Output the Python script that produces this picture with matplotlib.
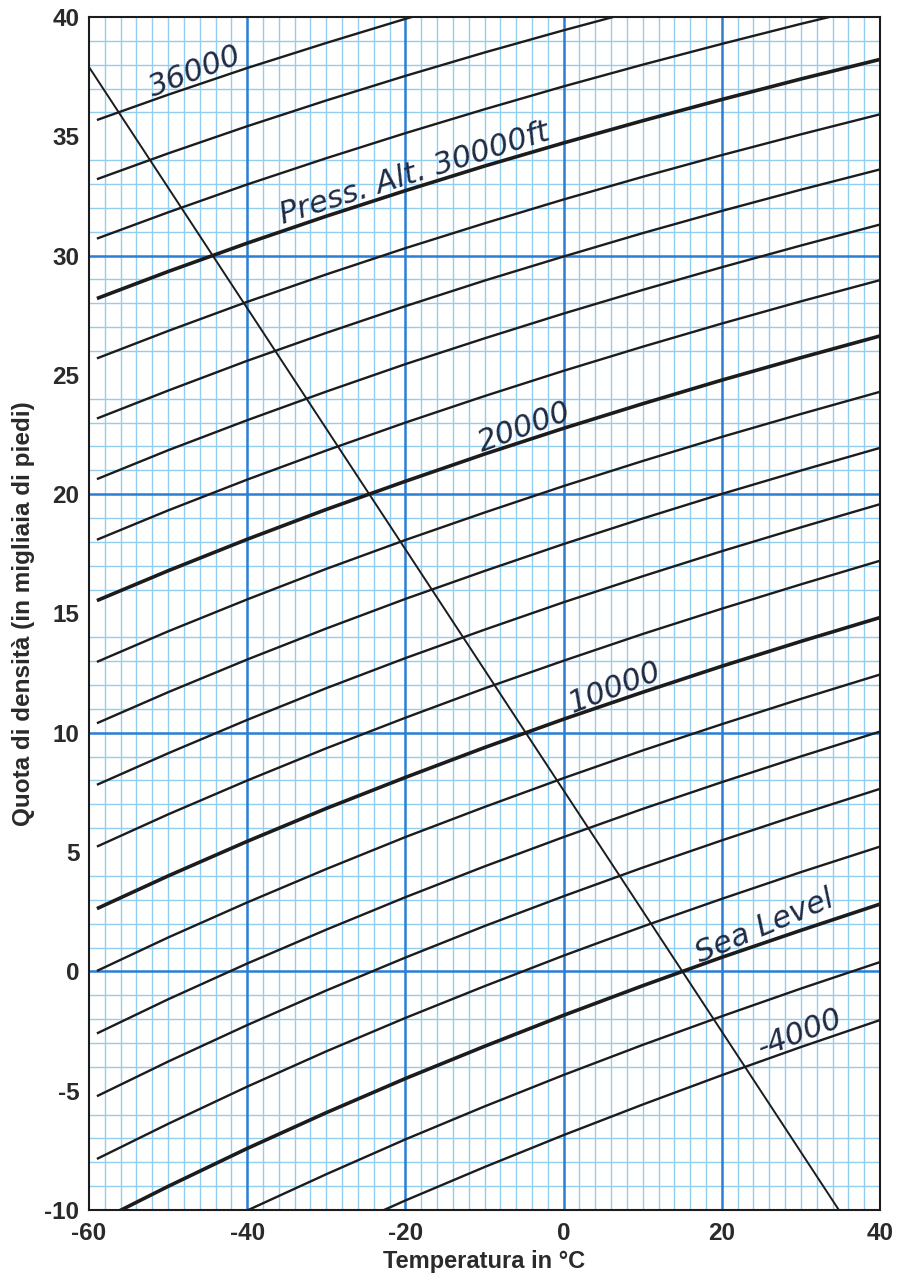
import matplotlib
matplotlib.use("Agg")
import matplotlib.pyplot as plt
from matplotlib.ticker import MultipleLocator

# temperatures (deg C) where the curves were read
temp = [-59, -50, -40, -30, -20, -10, 0, 10, 20, 30, 40]

# density altitude (thousand ft)
da_m4000 = [-15.82, -14.27, -12.63, -11.08, -9.60, -8.20, -6.86, -5.58, -4.35, -3.17, -2.04]
da_m2000 = [-13.16, -11.63, -10.02, -8.50, -7.04, -5.66, -4.34, -3.08, -1.88, -0.72, 0.39]
da_0 = [-10.51, -9.01, -7.42, -5.92, -4.49, -3.14, -1.84, -0.60, 0.59, 1.72, 2.82]
da_2000 = [-7.86, -6.39, -4.83, -3.35, -1.95, -0.62, 0.66, 1.88, 3.04, 4.16, 5.23]
da_4000 = [-5.23, -3.78, -2.25, -0.80, 0.58, 1.90, 3.15, 4.35, 5.49, 6.59, 7.65]
da_6000 = [-2.60, -1.17, 0.33, 1.75, 3.11, 4.40, 5.63, 6.81, 7.93, 9.01, 10.05]
da_8000 = [0.02, 1.42, 2.89, 4.29, 5.63, 6.89, 8.10, 9.26, 10.36, 11.42, 12.44]
da_10000 = [2.63, 4.00, 5.45, 6.83, 8.13, 9.38, 10.57, 11.70, 12.79, 13.83, 14.83]
da_12000 = [5.23, 6.58, 8.00, 9.35, 10.63, 11.86, 13.02, 14.14, 15.20, 16.22, 17.21]
da_14000 = [7.82, 9.14, 10.54, 11.87, 13.13, 14.32, 15.47, 16.56, 17.61, 18.61, 19.58]
da_16000 = [10.40, 11.70, 13.07, 14.37, 15.61, 16.78, 17.91, 18.98, 20.01, 20.99, 21.94]
da_18000 = [12.97, 14.25, 15.59, 16.87, 18.08, 19.23, 20.34, 21.39, 22.40, 23.36, 24.29]
da_20000 = [15.54, 16.79, 18.11, 19.36, 20.54, 21.68, 22.76, 23.79, 24.78, 25.72, 26.63]
da_22000 = [18.09, 19.32, 20.61, 21.83, 23.00, 24.11, 25.17, 26.18, 27.15, 28.08, 28.97]
da_24000 = [20.63, 21.84, 23.10, 24.30, 25.45, 26.53, 27.57, 28.56, 29.51, 30.42, 31.30]
da_26000 = [23.17, 24.34, 25.59, 26.76, 27.88, 28.95, 29.96, 30.94, 31.87, 32.76, 33.61]
da_28000 = [25.69, 26.84, 28.06, 29.21, 30.31, 31.35, 32.35, 33.30, 34.21, 35.08, 35.92]
da_30000 = [28.20, 29.33, 30.52, 31.65, 32.72, 33.75, 34.72, 35.65, 36.54, 37.40, 38.22]
da_32000 = [30.71, 31.81, 32.98, 34.08, 35.13, 36.13, 37.09, 38.00, 38.87, 39.71, 40.51]
da_34000 = [33.20, 34.28, 35.42, 36.50, 37.53, 38.51, 39.44, 40.33, 41.19, 42.00, 42.79]
da_36000 = [35.68, 36.74, 37.86, 38.91, 39.92, 40.87, 41.78, 42.66, 43.49, 44.29, 45.06]

pressure_alt = [-4000, -2000, 0, 2000, 4000, 6000, 8000, 10000, 12000, 14000,
                16000, 18000, 20000, 22000, 24000, 26000, 28000, 30000, 32000,
                34000, 36000]
curves = [da_m4000, da_m2000, da_0, da_2000, da_4000, da_6000, da_8000,
          da_10000, da_12000, da_14000, da_16000, da_18000, da_20000,
          da_22000, da_24000, da_26000, da_28000, da_30000, da_32000,
          da_34000, da_36000]
bold_alt = [0, 10000, 20000, 30000]

# standard atmosphere line
isa_temp = [-60, 34.8]
isa_alt = [37.9, -10.0]

# hand written labels: text, x, y, rotation
labels = [("36000", -46.6, 37.7, 21),
          ("Press. Alt. 30000ft", -18.8, 33.45, 17.5),
          ("20000", -5.0, 22.8, 20),
          ("10000", 6.4, 11.9, 21),
          ("Sea Level", 25.4, 1.9, 23),
          ("-4000", 29.9, -2.6, 21)]

plt.rcParams['font.family'] = ['Liberation Sans', 'DejaVu Sans']
plt.rcParams['axes.unicode_minus'] = False

fig = plt.figure(figsize=(9, 12.83), dpi=100)
ax = fig.add_axes([0.0989, 0.0569, 0.8789, 0.9299])

ax.set_xlim(-60, 40)
ax.set_ylim(-10, 40)
ax.xaxis.set_major_locator(MultipleLocator(20))
ax.yaxis.set_major_locator(MultipleLocator(5))
ax.xaxis.set_minor_locator(MultipleLocator(2))
ax.yaxis.set_minor_locator(MultipleLocator(1))

ax.set_axisbelow(True)
ax.grid(which='minor', color='#93cdef', lw=1.0)
for v in [-40, -20, 0, 20]:
    ax.axvline(v, color='#2a7fd4', lw=1.8, zorder=1)
for v in [0, 10, 20, 30]:
    ax.axhline(v, color='#2a7fd4', lw=1.8, zorder=1)

for pa, da in zip(pressure_alt, curves):
    lw = 2.6 if pa in bold_alt else 1.7
    ax.plot(temp, da, color='#1c1c1c', lw=lw, solid_capstyle='butt',
            solid_joinstyle='round', zorder=3)

ax.plot(isa_temp, isa_alt, color='#1c1c1c', lw=1.4, zorder=3)

for txt, x, y, rot in labels:
    ax.text(x, y, txt, rotation=rot, ha='center', va='center',
            rotation_mode='anchor', color='#1f2a44', fontsize=22,
            family='DejaVu Sans', style='italic', zorder=4)

ax.tick_params(which='both', length=0)
ax.tick_params(axis='x', pad=9)
ax.tick_params(axis='y', pad=7)
for lab in ax.get_xticklabels() + ax.get_yticklabels():
    lab.set_fontsize(17.5)
    lab.set_fontweight('bold')
    lab.set_color('#2a2a2a')

ax.set_xlabel('Temperatura in °C', fontsize=17, fontweight='bold',
              color='#2a2a2a', labelpad=3)
ax.set_ylabel('Quota di densità (in migliaia di piedi)', fontsize=17.5,
              fontweight='bold', color='#2a2a2a')
ax.yaxis.set_label_coords(-0.068, 0.5)

for s in ax.spines.values():
    s.set_color('#1c1c1c')
    s.set_linewidth(1.5)
    s.set_zorder(5)

fig.savefig('out.png')
